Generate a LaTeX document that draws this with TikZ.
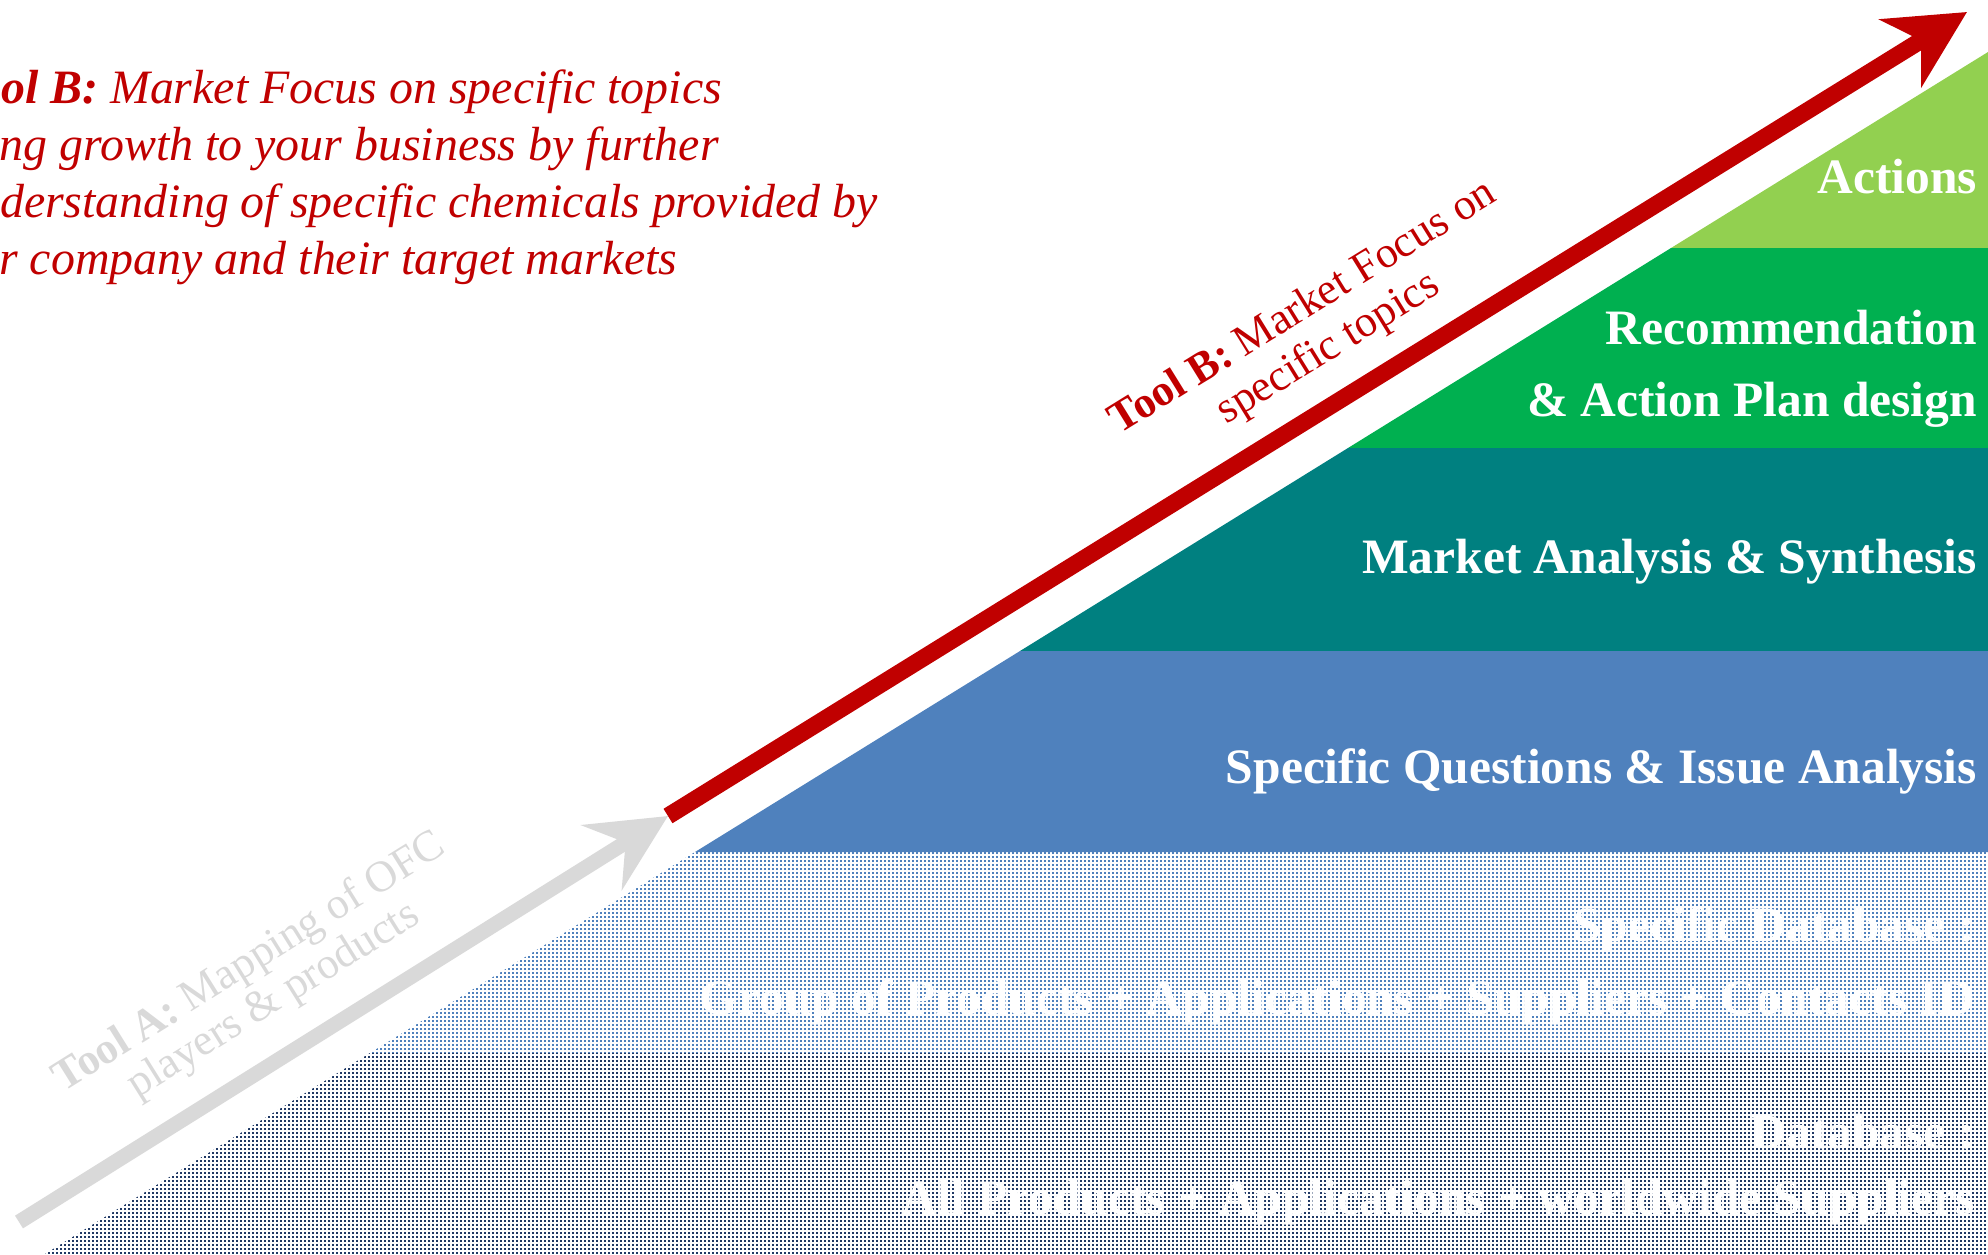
\documentclass[tikz,border=0pt]{standalone}
\usepackage{fontspec}
\setmainfont{Liberation Serif}
\usetikzlibrary{arrows.meta,patterns}

\definecolor{toolred}{RGB}{192,0,0}
\definecolor{toolgray}{RGB}{217,217,217}
\definecolor{actgreen}{RGB}{146,208,80}
\definecolor{recgreen}{RGB}{0,176,80}
\definecolor{anateal}{RGB}{0,128,128}
\definecolor{qblue}{RGB}{79,129,189}
\definecolor{dblight}{RGB}{79,129,189}
\definecolor{dbdark}{RGB}{31,56,100}
\pgfdeclarepatternformonly{dbgrid}{\pgfqpoint{-1pt}{-1pt}}{\pgfqpoint{5pt}{5pt}}{\pgfqpoint{4pt}{4pt}}{\pgfpathrectangle{\pgfqpoint{0pt}{0pt}}{\pgfqpoint{2.4pt}{2.4pt}}\pgfusepath{fill}}

\begin{document}
\begin{tikzpicture}[x=1pt, y=-1pt,
		bandlabel/.style={text=white, inner sep=0pt, align=right, font=\fontsize{49.5}{72}\selectfont\bfseries},
		tooltext/.style={inner sep=0pt, align=center, font=\fontsize{44}{48}\selectfont}]
			%%%%% START %%%%%
			\useasboundingbox (0, 0) rectangle (1988, 1254);
			\clip (0, 0) rectangle (1988, 1254);
			
			% pyramid bands
			\fill[actgreen] (1671, 248) -- (1988, 52) -- (1988, 248) -- cycle;
			\fill[recgreen] (1348, 448) -- (1671, 248) -- (1988, 248) -- (1988, 448) -- cycle;
			\fill[anateal] (1020, 651) -- (1348, 448) -- (1988, 448) -- (1988, 651) -- cycle;
			\fill[qblue] (695, 852) -- (1020, 651) -- (1988, 651) -- (1988, 852) -- cycle;
			\fill[pattern=dbgrid, pattern color=dblight] (370, 1053) -- (695, 852) -- (1988, 852) -- (1988, 1053) -- cycle;
			\fill[pattern=dbgrid, pattern color=dbdark] (45, 1254) -- (370, 1053) -- (1988, 1053) -- (1988, 1254) -- cycle;
			
			% arrows
			\coordinate (graytail) at (19, 1222);
			\coordinate (redtail) at (668, 816);
			\coordinate (redtip) at (1967, 12);
			\draw[toolgray, line width=15pt, -{Stealth[length=78pt, width=76pt, inset=28pt]}] (graytail) -- (redtail);
			\draw[toolred, line width=17pt, -{Stealth[length=78pt, width=79pt, inset=24pt]}] (redtail) -- (redtip);
			
			% tool texts
			\node[tooltext, rotate=31.75, text=toolred] (toolb) at (1316, 329) {\textbf{Tool B:} Market Focus on\\specific topics};
			\node[tooltext, rotate=32, text=toolgray, font=\fontsize{44}{45}\selectfont] (toola) at (262, 982) {\textbf{Tool A:} Mapping of OFC\\players \& products};
			\node[anchor=north west, inner sep=0pt, align=left, text=toolred, font=\fontsize{47.9}{57}\selectfont\itshape] (toolbnote) at (-48, 70) {\textbf{Tool B:} Market Focus on specific topics\\\hspace*{-14pt}Bring growth to your business by further\\understanding of specific chemicals provided by\\\hspace*{-22pt}your company and their target markets};
			
			% band labels
			\node[bandlabel, anchor=base east] (actions) at (1977, 193) {Actions};
			\node[bandlabel, anchor=north east] (recplan) at (1977, 309.5) {Recommendation\\\& Action Plan design};
			\node[bandlabel, anchor=base east] (analysis) at (1977, 573) {Market Analysis \& Synthesis};
			\node[bandlabel, anchor=base east] (questions) at (1977, 783) {Specific Questions \& Issue Analysis};
			\node[bandlabel, anchor=north east, font=\fontsize{49.5}{73}\selectfont\bfseries] (specdb) at (1975, 906) {Specific Database :\\Group of Products + Applications + Suppliers + Contacts ID};
			\node[bandlabel, anchor=north east, font=\fontsize{49.5}{66}\selectfont\bfseries] (alldb) at (1975, 1113.5) {Database :\\All Products + Applications + worldwide Suppliers};
			%%%%% END %%%%%
\end{tikzpicture}
\end{document}
